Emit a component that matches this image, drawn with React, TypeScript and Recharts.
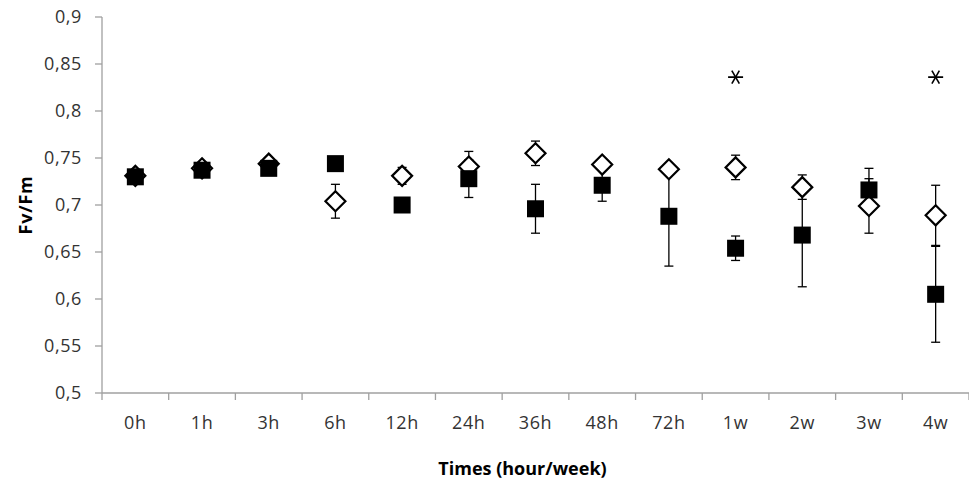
import React from 'react';
import { ComposedChart, Line, XAxis, YAxis, ErrorBar } from 'recharts';

const times = ['0h', '1h', '3h', '6h', '12h', '24h', '36h', '48h', '72h', '1w', '2w', '3w', '4w'];

// filled squares
const filledMean = [0.730, 0.737, 0.739, 0.744, 0.700, 0.728, 0.696, 0.721, 0.688, 0.654, 0.668, 0.716, 0.605];
const filledErr = [0.004, 0.004, 0.003, 0.003, 0.003, 0.020, 0.026, 0.017, 0.053, 0.013, 0.055, 0.023, 0.051];

// open diamonds
const openMean = [0.731, 0.739, 0.744, 0.704, 0.731, 0.741, 0.755, 0.743, 0.738, 0.740, 0.719, 0.699, 0.689];
const openErr = [0.003, 0.003, 0.003, 0.018, 0.009, 0.016, 0.013, 0.004, 0.003, 0.013, 0.013, 0.029, 0.032];

// significance marks
const starLevel = [null, null, null, null, null, null, null, null, null, 0.836, null, null, 0.836];

const yTicks = [0.5, 0.55, 0.6, 0.65, 0.7, 0.75, 0.8, 0.85, 0.9];

const data = times.map((t, i) => ({
  time: t,
  filled: filledMean[i],
  filledErr: filledErr[i],
  open: openMean[i],
  openErr: openErr[i],
  star: starLevel[i],
}));

const AXIS = '#a0a0a0';
const TEXT = '#333';
const FONT = '"Open Sans", sans-serif';

const Diamond = (p: any) => {
  const { cx, cy } = p;
  if (cx == null || cy == null || p.value == null) return <g />;
  const r = 10;
  return (
    <path
      d={`M${cx},${cy - r}L${cx + r},${cy}L${cx},${cy + r}L${cx - r},${cy}Z`}
      fill="#fff"
      stroke="#000"
      strokeWidth={2.2}
    />
  );
};

const Square = (p: any) => {
  const { cx, cy } = p;
  if (cx == null || cy == null || p.value == null) return <g />;
  const s = 17;
  return <rect x={cx - s / 2} y={cy - s / 2} width={s} height={s} fill="#000" />;
};

const Star = (p: any) => {
  const { cx, cy } = p;
  if (cx == null || cy == null || p.value == null) return <g />;
  const r = 7.5;
  const arms = [0, 60, 120].map((a) => {
    const rad = (a * Math.PI) / 180;
    const dx = r * Math.cos(rad);
    const dy = r * Math.sin(rad);
    return <line key={a} x1={cx - dx} y1={cy - dy} x2={cx + dx} y2={cy + dy} stroke="#000" strokeWidth={1.6} />;
  });
  return <g>{arms}</g>;
};

// category label plus Excel-like boundary tick marks
const TimeTick = (p: any) => {
  const { x, y, payload, index } = p;
  const half = payload && payload.offset ? payload.offset : 33.35;
  return (
    <g>
      <line x1={x - half} y1={y} x2={x - half} y2={y + 7} stroke={AXIS} strokeWidth={1.3} />
      {index === times.length - 1 && (
        <line x1={x + half} y1={y} x2={x + half} y2={y + 7} stroke={AXIS} strokeWidth={1.3} />
      )}
      <text x={x} y={y + 36} textAnchor="middle" fill={TEXT} fontSize={18} fontFamily={FONT} letterSpacing={0.6}>
        {payload.value}
      </text>
    </g>
  );
};

const YTitle = (p: any) => {
  const vb = p.viewBox || { x: 0, y: 17, height: 376 };
  const cx = vb.x + 25;
  const cy = vb.y + vb.height / 2;
  return (
    <text
      x={cx}
      y={cy}
      transform={`rotate(-90, ${cx}, ${cy})`}
      textAnchor="middle"
      dominantBaseline="central"
      fontWeight="bold"
      fontSize={18}
      fontFamily={FONT}
      fill="#000"
      letterSpacing={0.8}
    >
      Fv/Fm
    </text>
  );
};

const XTitle = (p: any) => {
  const vb = p.viewBox || { x: 102, y: 393, width: 867 };
  return (
    <text
      x={vb.x + vb.width / 2 - 13}
      y={vb.y + 82}
      textAnchor="middle"
      fontWeight="bold"
      fontSize={18}
      fontFamily={FONT}
      fill="#000"
    >
      Times (hour/week)
    </text>
  );
};

export default function App() {
  return (
    <div style={{ position: 'fixed', left: 0, top: 0, width: 969, height: 482, background: '#fff' }}>
      <ComposedChart width={969} height={482} data={data} margin={{ top: 17, right: 0, bottom: 0, left: 0 }}>
        <XAxis
          dataKey="time"
          scale="band"
          height={89}
          axisLine={{ stroke: AXIS, strokeWidth: 1.3 }}
          tickLine={false}
          tickSize={0}
          tickMargin={0}
          tick={<TimeTick />}
          interval={0}
          label={<XTitle />}
        />
        <YAxis
          width={102}
          domain={[0.5, 0.9]}
          ticks={yTicks}
          interval={0}
          allowDataOverflow
          axisLine={{ stroke: AXIS, strokeWidth: 1.3 }}
          tickLine={{ stroke: AXIS, strokeWidth: 1.3 }}
          tickSize={7}
          tickMargin={13}
          tick={{ fill: TEXT, fontSize: 18, fontFamily: FONT, letterSpacing: 0.6 }}
          tickFormatter={(v: number) => String(v).replace('.', ',')}
          label={<YTitle />}
        />
        {/* error bars first, markers on top */}
        <Line dataKey="open" stroke="none" dot={false} activeDot={false} isAnimationActive={false}>
          <ErrorBar dataKey="openErr" direction="y" width={4.5} stroke="#000" strokeWidth={1.3} />
        </Line>
        <Line dataKey="filled" stroke="none" dot={false} activeDot={false} isAnimationActive={false}>
          <ErrorBar dataKey="filledErr" direction="y" width={4.5} stroke="#000" strokeWidth={1.3} />
        </Line>
        <Line dataKey="open" stroke="none" dot={<Diamond />} activeDot={false} isAnimationActive={false} />
        <Line dataKey="filled" stroke="none" dot={<Square />} activeDot={false} isAnimationActive={false} />
        <Line dataKey="star" stroke="none" dot={<Star />} activeDot={false} isAnimationActive={false} connectNulls={false} />
      </ComposedChart>
    </div>
  );
}
